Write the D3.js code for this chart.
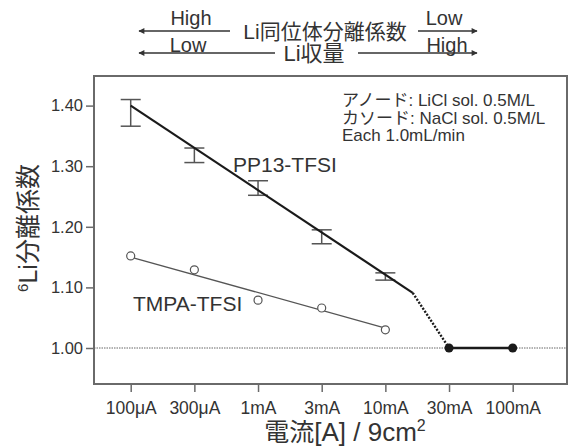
<!DOCTYPE html>
<html lang="ja">
<head>
<meta charset="UTF-8">
<title>6Li分離係数</title>
<script src="https://d3js.org/d3.v7.min.js"></script>
<style>
  html, body { margin: 0; padding: 0; background: #fff; }
  svg { display: block; font-family: "Liberation Sans", Arial, "Noto Sans CJK JP", sans-serif; }
  text { fill: #333; }
</style>
</head>
<body>
<div id="chart"></div>
<script>
// categories along the current axis
const categories = ["100μA", "300μA", "1mA", "3mA", "10mA", "30mA", "100mA"];
const yTicks = [1.00, 1.10, 1.20, 1.30, 1.40];

// PP13-TFSI error bars (low / high)
const pp13Low  = [1.366, 1.306, 1.252, 1.172, 1.112];
const pp13High = [1.410, 1.330, 1.276, 1.195, 1.124];
// PP13-TFSI trend [category index, value]
const pp13Fit  = [[0, 1.400], [4.43, 1.091]];
const pp13Drop = [[4.43, 1.091], [5, 1.000]];
const pp13Flat = [[5, 1.000], [6, 1.000]];

// TMPA-TFSI points and trend
const tmpaValues = [1.152, 1.129, 1.079, 1.066, 1.030];
const tmpaFit = [[0, 1.150], [4, 1.033]];

const width = 574, height = 448;
const frame = { left: 94, right: 567, top: 76, bottom: 384 };

const svg = d3.select("#chart").append("svg")
  .attr("width", width)
  .attr("height", height);

const x = d3.scaleLinear().domain([0, 6]).range([130.7, 512.7]);
const y = d3.scaleLinear().domain([1.0, 1.4]).range([348, 105.6]);

// frame
svg.append("rect")
  .attr("x", frame.left).attr("y", frame.top)
  .attr("width", frame.right - frame.left)
  .attr("height", frame.bottom - frame.top)
  .attr("fill", "none")
  .attr("stroke", "#6a6a6a")
  .attr("stroke-width", 2);

// y axis
const yAxis = svg.append("g")
  .attr("transform", `translate(${frame.left},0)`)
  .call(d3.axisLeft(y).tickValues(yTicks).tickFormat(d3.format(".2f")).tickSize(8).tickPadding(3));
yAxis.select(".domain").remove();
yAxis.selectAll("line").attr("stroke", "#6a6a6a").attr("stroke-width", 1.5);
yAxis.selectAll("text").style("font-size", "16.5px").attr("fill", "#333");

// x axis
const xAxis = svg.append("g")
  .attr("transform", `translate(0,${frame.bottom})`)
  .call(d3.axisBottom(x).tickValues(d3.range(categories.length))
    .tickFormat(i => categories[i]).tickSize(8).tickPadding(10));
xAxis.select(".domain").remove();
xAxis.selectAll("line").attr("stroke", "#6a6a6a").attr("stroke-width", 1.5);
xAxis.selectAll("text").style("font-size", "17.5px").attr("fill", "#333");

// reference line at 1.00
svg.append("line")
  .attr("x1", frame.left).attr("x2", frame.right)
  .attr("y1", y(1.0)).attr("y2", y(1.0))
  .attr("stroke", "#666")
  .attr("stroke-width", 1)
  .attr("stroke-dasharray", "1.5,1");

const line = d3.line().x(d => x(d[0])).y(d => y(d[1]));

// TMPA-TFSI
svg.append("path")
  .attr("d", line(tmpaFit))
  .attr("fill", "none")
  .attr("stroke", "#555")
  .attr("stroke-width", 1.3);
svg.selectAll(".tmpa")
  .data(tmpaValues)
  .enter().append("circle")
  .attr("class", "tmpa")
  .attr("cx", (d, i) => x(i))
  .attr("cy", d => y(d))
  .attr("r", 4)
  .attr("fill", "#fff")
  .attr("stroke", "#555")
  .attr("stroke-width", 1.2);

// PP13-TFSI error bars
const bars = svg.selectAll(".err")
  .data(pp13Low.map((lo, i) => ({ i, lo, hi: pp13High[i] })))
  .enter().append("g")
  .attr("class", "err")
  .attr("stroke", "#555")
  .attr("stroke-width", 1.5);
bars.append("line")
  .attr("x1", d => x(d.i)).attr("x2", d => x(d.i))
  .attr("y1", d => y(d.lo)).attr("y2", d => y(d.hi));
bars.append("line")
  .attr("x1", d => x(d.i) - 10).attr("x2", d => x(d.i) + 10)
  .attr("y1", d => y(d.lo)).attr("y2", d => y(d.lo));
bars.append("line")
  .attr("x1", d => x(d.i) - 10).attr("x2", d => x(d.i) + 10)
  .attr("y1", d => y(d.hi)).attr("y2", d => y(d.hi));

// PP13-TFSI trend
svg.append("path")
  .attr("d", line(pp13Fit))
  .attr("fill", "none")
  .attr("stroke", "#1a1a1a")
  .attr("stroke-width", 2.2);
svg.append("path")
  .attr("d", line(pp13Drop))
  .attr("fill", "none")
  .attr("stroke", "#1a1a1a")
  .attr("stroke-width", 2.4)
  .attr("stroke-dasharray", "2,1.6");
svg.append("path")
  .attr("d", line(pp13Flat))
  .attr("fill", "none")
  .attr("stroke", "#1a1a1a")
  .attr("stroke-width", 2.4);
svg.selectAll(".flat")
  .data(pp13Flat)
  .enter().append("circle")
  .attr("class", "flat")
  .attr("cx", d => x(d[0]))
  .attr("cy", d => y(d[1]))
  .attr("r", 4.5)
  .attr("fill", "#1a1a1a");

// series labels
svg.append("text").attr("x", 233).attr("y", 172)
  .style("font-size", "21px").text("PP13-TFSI");
svg.append("text").attr("x", 133).attr("y", 311)
  .style("font-size", "21px").text("TMPA-TFSI");

// conditions
const cond = ["アノード: LiCl sol. 0.5M/L", "カソード: NaCl sol. 0.5M/L", "Each 1.0mL/min"];
svg.append("g").selectAll("text")
  .data(cond)
  .enter().append("text")
  .attr("x", 342)
  .attr("y", (d, i) => 106 + i * 17.5)
  .style("font-size", "17px")
  .text(d => d);

// axis titles
const yTitle = svg.append("text")
  .attr("transform", "translate(37,228) rotate(-90)")
  .attr("text-anchor", "middle")
  .style("font-size", "25px");
yTitle.append("tspan").attr("dy", "-9").style("font-size", "15px").text("6");
yTitle.append("tspan").attr("dy", "9").text("Li分離係数");

const xTitle = svg.append("text")
  .attr("x", 345).attr("y", 441)
  .attr("text-anchor", "middle")
  .style("font-size", "25px");
xTitle.append("tspan").text("電流");
xTitle.append("tspan").style("font-size", "26px").text("[A] / 9cm");
xTitle.append("tspan").attr("dy", "-10").style("font-size", "16px").text("2");

// header arrows
const defs = svg.append("defs");
defs.append("marker")
  .attr("id", "arr")
  .attr("viewBox", "0 0 10 10")
  .attr("refX", 9).attr("refY", 5)
  .attr("markerWidth", 7).attr("markerHeight", 6)
  .attr("markerUnits", "userSpaceOnUse")
  .attr("orient", "auto")
  .append("path").attr("d", "M0,0 L10,5 L0,10 z").attr("fill", "#333");

const header = svg.append("g");
const arrows = [
  [230, 31, 139, 31], [418, 31, 477, 31],
  [275, 53, 139, 53], [358, 53, 477, 53]
];
header.selectAll("line")
  .data(arrows)
  .enter().append("line")
  .attr("x1", d => d[0]).attr("y1", d => d[1])
  .attr("x2", d => d[2]).attr("y2", d => d[3])
  .attr("stroke", "#333")
  .attr("stroke-width", 1.3)
  .attr("marker-end", "url(#arr)");

header.append("text").attr("x", 191).attr("y", 25).attr("text-anchor", "middle")
  .style("font-size", "20px").text("High");
header.append("text").attr("x", 444).attr("y", 25).attr("text-anchor", "middle")
  .style("font-size", "20px").text("Low");
header.append("text").attr("x", 325).attr("y", 39).attr("text-anchor", "middle")
  .style("font-size", "21px").text("Li同位体分離係数");
header.append("text").attr("x", 188).attr("y", 52).attr("text-anchor", "middle")
  .style("font-size", "20px").text("Low");
header.append("text").attr("x", 447).attr("y", 52).attr("text-anchor", "middle")
  .style("font-size", "20px").text("High");
header.append("text").attr("x", 314).attr("y", 61).attr("text-anchor", "middle")
  .style("font-size", "22px").text("Li収量");
</script>
</body>
</html>
